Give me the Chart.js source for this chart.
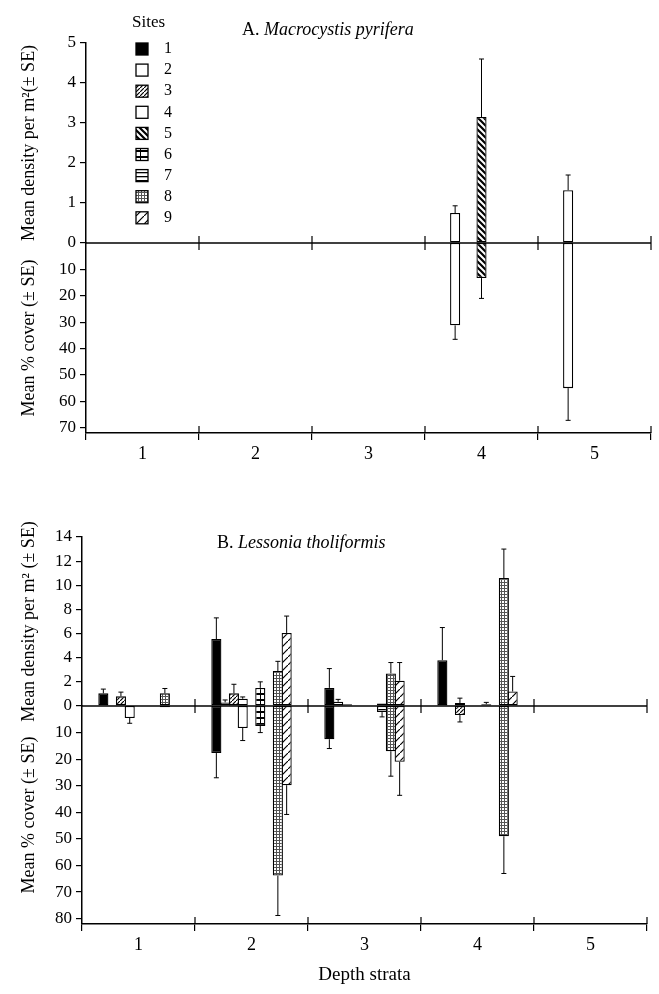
<!DOCTYPE html>
<html>
<head>
<meta charset="utf-8">
<script src="https://cdn.jsdelivr.net/npm/chart.js@4.4.1/dist/chart.umd.min.js"></script>
<style>
  body { margin: 0; width: 659px; height: 994px; background: #fff; position: relative; overflow: hidden; }
  .panel { position: absolute; left: 0; width: 659px; }
  .title { position: absolute; font: 18px 'Liberation Serif', serif; color: #000; white-space: nowrap; z-index: 2; }
</style>
</head>
<body>
<div class="title" style="left:242px;top:19px">A. <i>Macrocystis pyrifera</i></div>
<div class="title" style="left:217px;top:532px">B. <i>Lessonia tholiformis</i></div>
<div class="panel" style="top:0;height:465px"><canvas id="chartA"></canvas></div>
<div class="panel" style="top:465px;height:529px"><canvas id="chartB"></canvas></div>
<script>
const strata = ['1', '2', '3', '4', '5'];
const sites = ['1', '2', '3', '4', '5', '6', '7', '8', '9'];

// A. Macrocystis pyrifera  (rows = sites 1-9, columns = depth strata 1-5)
const macroDensity = [
    [null, null, null, null, null],
    [null, null, null, 0.75, 1.32],
    [null, null, null, null, null],
    [null, null, null, null, null],
    [null, null, null, 3.15, null],
    [null, null, null, null, null],
    [null, null, null, null, null],
    [null, null, null, null, null],
    [null, null, null, null, null],
];
const macroDensitySE = [
    [null, null, null, null, null],
    [null, null, null, 0.18, 0.38],
    [null, null, null, null, null],
    [null, null, null, null, null],
    [null, null, null, 1.45, null],
    [null, null, null, null, null],
    [null, null, null, null, null],
    [null, null, null, null, null],
    [null, null, null, null, null],
];
const macroCover = [
    [null, null, null, null, null],
    [null, null, null, 31.2, 55.0],
    [null, null, null, null, null],
    [null, null, null, null, null],
    [null, null, null, 13.3, null],
    [null, null, null, null, null],
    [null, null, null, null, null],
    [null, null, null, null, null],
    [null, null, null, null, null],
];
const macroCoverSE = [
    [null, null, null, null, null],
    [null, null, null, 5.3, 12.2],
    [null, null, null, null, null],
    [null, null, null, null, null],
    [null, null, null, 7.7, null],
    [null, null, null, null, null],
    [null, null, null, null, null],
    [null, null, null, null, null],
    [null, null, null, null, null],
];

// B. Lessonia tholiformis
const lessDensity = [
    [1.05, 5.55, 1.5, 3.8, null],
    [null, 0.3, 0.35, null, null],
    [0.8, 1.05, 0.15, 0.25, null],
    [null, 0.6, null, null, null],
    [null, null, null, null, null],
    [null, 1.5, null, 0.15, null],
    [null, null, 0.2, null, null],
    [1.05, 2.9, 2.7, 10.6, null],
    [null, 6.05, 2.1, 1.2, null],
];
const lessDensitySE = [
    [0.35, 1.75, 1.6, 2.7, null],
    [null, 0.2, 0.2, null, null],
    [0.35, 0.75, null, 0.4, null],
    [null, 0.15, null, null, null],
    [null, null, null, null, null],
    [null, 0.5, null, 0.15, null],
    [null, null, null, null, null],
    [0.4, 0.8, 0.9, 2.4, null],
    [null, 1.4, 1.5, 1.25, null],
];
const lessCover = [
    [null, 17.7, 12.5, null, null],
    [null, null, null, null, null],
    [null, null, null, 3.4, null],
    [4.5, 8.3, null, null, null],
    [null, null, null, null, null],
    [null, 7.5, null, null, null],
    [null, null, 2.3, null, null],
    [0.5, 63.8, 17.0, 49.0, null],
    [null, 29.8, 21.0, null, null],
];
const lessCoverSE = [
    [null, 9.3, 3.5, null, null],
    [null, null, null, null, null],
    [null, null, null, 2.6, null],
    [2.0, 4.7, null, null, null],
    [null, null, null, null, null],
    [null, 2.5, null, null, null],
    [null, null, 1.8, null, null],
    [null, 15.0, 9.4, 14.0, null],
    [null, 11.0, 12.6, null, null],
];

const densityTicksA = [0, 1, 2, 3, 4, 5];
const coverTicksA = [10, 20, 30, 40, 50, 60, 70];
const densityTicksB = [0, 2, 4, 6, 8, 10, 12, 14];
const coverTicksB = [10, 20, 30, 40, 50, 60, 70, 80];

const serif = "'Liberation Serif', 'DejaVu Serif', serif";

// fill patterns for the nine sites
function pattern(w, h, draw) {
    const c = document.createElement('canvas');
    c.width = w;
    c.height = h;
    const g = c.getContext('2d');
    g.fillStyle = '#fff';
    g.fillRect(0, 0, w, h);
    g.strokeStyle = '#000';
    g.fillStyle = '#000';
    draw(g);
    return g.createPattern(c, 'repeat');
}
const siteFills = [
    '#000',
    '#fff',
    pattern(4, 4, g => { g.lineWidth = 1.2; g.beginPath(); g.moveTo(-1, 5); g.lineTo(5, -1); g.stroke(); }),
    '#fff',
    pattern(6, 6, g => {
        g.lineWidth = 2.2; g.beginPath();
        g.moveTo(-1, -1); g.lineTo(7, 7);
        g.moveTo(-1, 5); g.lineTo(1, 7);
        g.moveTo(5, -1); g.lineTo(7, 1);
        g.stroke();
    }),
    pattern(10, 6, g => { g.fillRect(0, 0, 10, 2); g.fillRect(0, 0, 1, 6); }),
    pattern(4, 4, g => { g.fillRect(0, 0, 4, 1.3); }),
    pattern(3, 3, g => { g.fillStyle = '#555'; g.fillRect(0, 0, 3, 1); g.fillRect(0, 0, 1, 3); }),
    pattern(8, 8, g => { g.lineWidth = 1.2; g.beginPath(); g.moveTo(-1, 9); g.lineTo(9, -1); g.stroke(); }),
];

// zero line, boundary ticks and SE whiskers
const extras = {
    id: 'extras',
    afterDatasetsDraw(chart) {
        const { ctx, chartArea: a, scales: { x, yD } } = chart;
        const y0 = yD.getPixelForValue(0);
        ctx.save();
        ctx.strokeStyle = '#000';
        ctx.lineWidth = 1.5;
        ctx.beginPath();
        ctx.moveTo(a.left, y0);
        ctx.lineTo(a.right, y0);
        ctx.stroke();
        ctx.lineWidth = 1.2;
        for (let i = 1; i <= strata.length; i++) {
            const bx = x.getPixelForValue(i - 0.5);
            ctx.beginPath();
            ctx.moveTo(bx, y0 - 7);
            ctx.lineTo(bx, y0 + 7);
            ctx.moveTo(bx, a.bottom - 7);
            ctx.lineTo(bx, a.bottom);
            ctx.stroke();
        }
        ctx.lineWidth = 1;
        chart.data.datasets.forEach((ds, i) => {
            const scale = chart.scales[ds.yAxisID];
            chart.getDatasetMeta(i).data.forEach((bar, j) => {
                const v = ds.data[j];
                const e = ds.errors[j];
                if (v == null || e == null) return;
                const yv = scale.getPixelForValue(v);
                const ye = scale.getPixelForValue(v + e);
                ctx.beginPath();
                ctx.moveTo(bar.x, yv);
                ctx.lineTo(bar.x, ye);
                ctx.moveTo(bar.x - 2.5, ye);
                ctx.lineTo(bar.x + 2.5, ye);
                ctx.stroke();
            });
        });
        ctx.restore();
    }
};

// "Sites" key drawn in the upper panel
const siteKey = {
    id: 'siteKey',
    afterDraw(chart, args, opts) {
        if (!opts.show) return;
        const { ctx } = chart;
        ctx.save();
        ctx.fillStyle = '#000';
        ctx.font = '17px ' + serif;
        ctx.textBaseline = 'middle';
        ctx.fillText('Sites', 132, 23);
        ctx.font = '16px ' + serif;
        sites.forEach((s, k) => {
            const y = 49 + k * 21.1;
            ctx.fillStyle = siteFills[k];
            ctx.fillRect(136, y - 6, 12, 12);
            ctx.strokeStyle = '#000';
            ctx.lineWidth = 1.3;
            ctx.strokeRect(136, y - 6, 12, 12);
            ctx.fillStyle = '#000';
            ctx.fillText(s, 164, y);
        });
        ctx.restore();
    }
};

function buildPanel(id, density, densitySE, cover, coverSE, cfg) {
    const datasets = [];
    sites.forEach((s, k) => {
        const common = {
            stack: 'site' + s,
            backgroundColor: siteFills[k],
            borderColor: '#000',
            borderWidth: 1.3,
            borderSkipped: false,
            categoryPercentage: 0.7,
            barPercentage: 1.15,
        };
        datasets.push({ ...common, label: 'Site ' + s, data: density[k], errors: densitySE[k], yAxisID: 'yD' });
        datasets.push({ ...common, label: 'Site ' + s + ' cover', data: cover[k], errors: coverSE[k], yAxisID: 'yC' });
    });
    const tickFont = { family: serif, size: 17 };
    const titleFont = { family: serif, size: 18 };
    const yCommon = {
        position: 'left',
        stack: 'v',
        stacked: false,
        border: { color: '#000', width: 1.5 },
        grid: { drawOnChartArea: false, color: '#000', lineWidth: 1.2, tickLength: 6 },
        ticks: { color: '#000', font: tickFont, padding: 4, autoSkip: false },
        afterFit: s => { s.width = cfg.left; },
    };
    return new Chart(document.getElementById(id), {
        type: 'bar',
        data: { labels: strata, datasets },
        plugins: [extras, siteKey],
        options: {
            responsive: true,
            maintainAspectRatio: false,
            animation: false,
            layout: { padding: { top: cfg.top, right: cfg.right, left: 0, bottom: 0 } },
            plugins: {
                legend: { display: false },
                tooltip: { enabled: false },
                siteKey: { show: cfg.key },
            },
            scales: {
                x: {
                    offset: true,
                    border: { color: '#000', width: 1.5 },
                    grid: { offset: true, drawOnChartArea: false, color: '#000', lineWidth: 1.2, tickLength: 7 },
                    ticks: { color: '#000', font: { family: serif, size: 18 }, padding: 3 },
                    title: { display: cfg.xTitle, text: 'Depth strata', color: '#000', font: { family: serif, size: 19 }, padding: { bottom: 8 } },
                    afterFit: s => { s.height = cfg.bottom; },
                },
                // cover axis listed first so the density axis sits on top of the stack
                yC: {
                    ...yCommon,
                    stackWeight: cfg.wC,
                    min: 0,
                    max: cfg.cMax,
                    reverse: true,
                    afterBuildTicks: s => { s.ticks = cfg.cTicks.map(v => ({ value: v })); },
                    title: { display: true, text: 'Mean % cover (\u00b1 SE)', color: '#000', font: titleFont, padding: { top: 18 } },
                },
                yD: {
                    ...yCommon,
                    stackWeight: cfg.wD,
                    min: 0,
                    max: cfg.dMax,
                    afterBuildTicks: s => { s.ticks = cfg.dTicks.map(v => ({ value: v })); },
                    title: { display: true, text: cfg.dTitle, color: '#000', font: titleFont, padding: { top: 18 } },
                },
            },
        },
    });
}

buildPanel('chartA', macroDensity, macroDensitySE, macroCover, macroCoverSE, {
    top: 43, right: 8, left: 86, bottom: 32,
    dMax: 5, cMax: 72, wD: 200, wC: 190,
    dTicks: densityTicksA, cTicks: coverTicksA,
    dTitle: 'Mean density per m\u00b2(\u00b1 SE)',
    key: true, xTitle: false,
});

buildPanel('chartB', lessDensity, lessDensitySE, lessCover, lessCoverSE, {
    top: 72, right: 12, left: 82, bottom: 70,
    dMax: 14, cMax: 82, wD: 169, wC: 218,
    dTicks: densityTicksB, cTicks: coverTicksB,
    dTitle: 'Mean density per m\u00b2 (\u00b1 SE)',
    key: false, xTitle: true,
});
</script>
</body>
</html>
